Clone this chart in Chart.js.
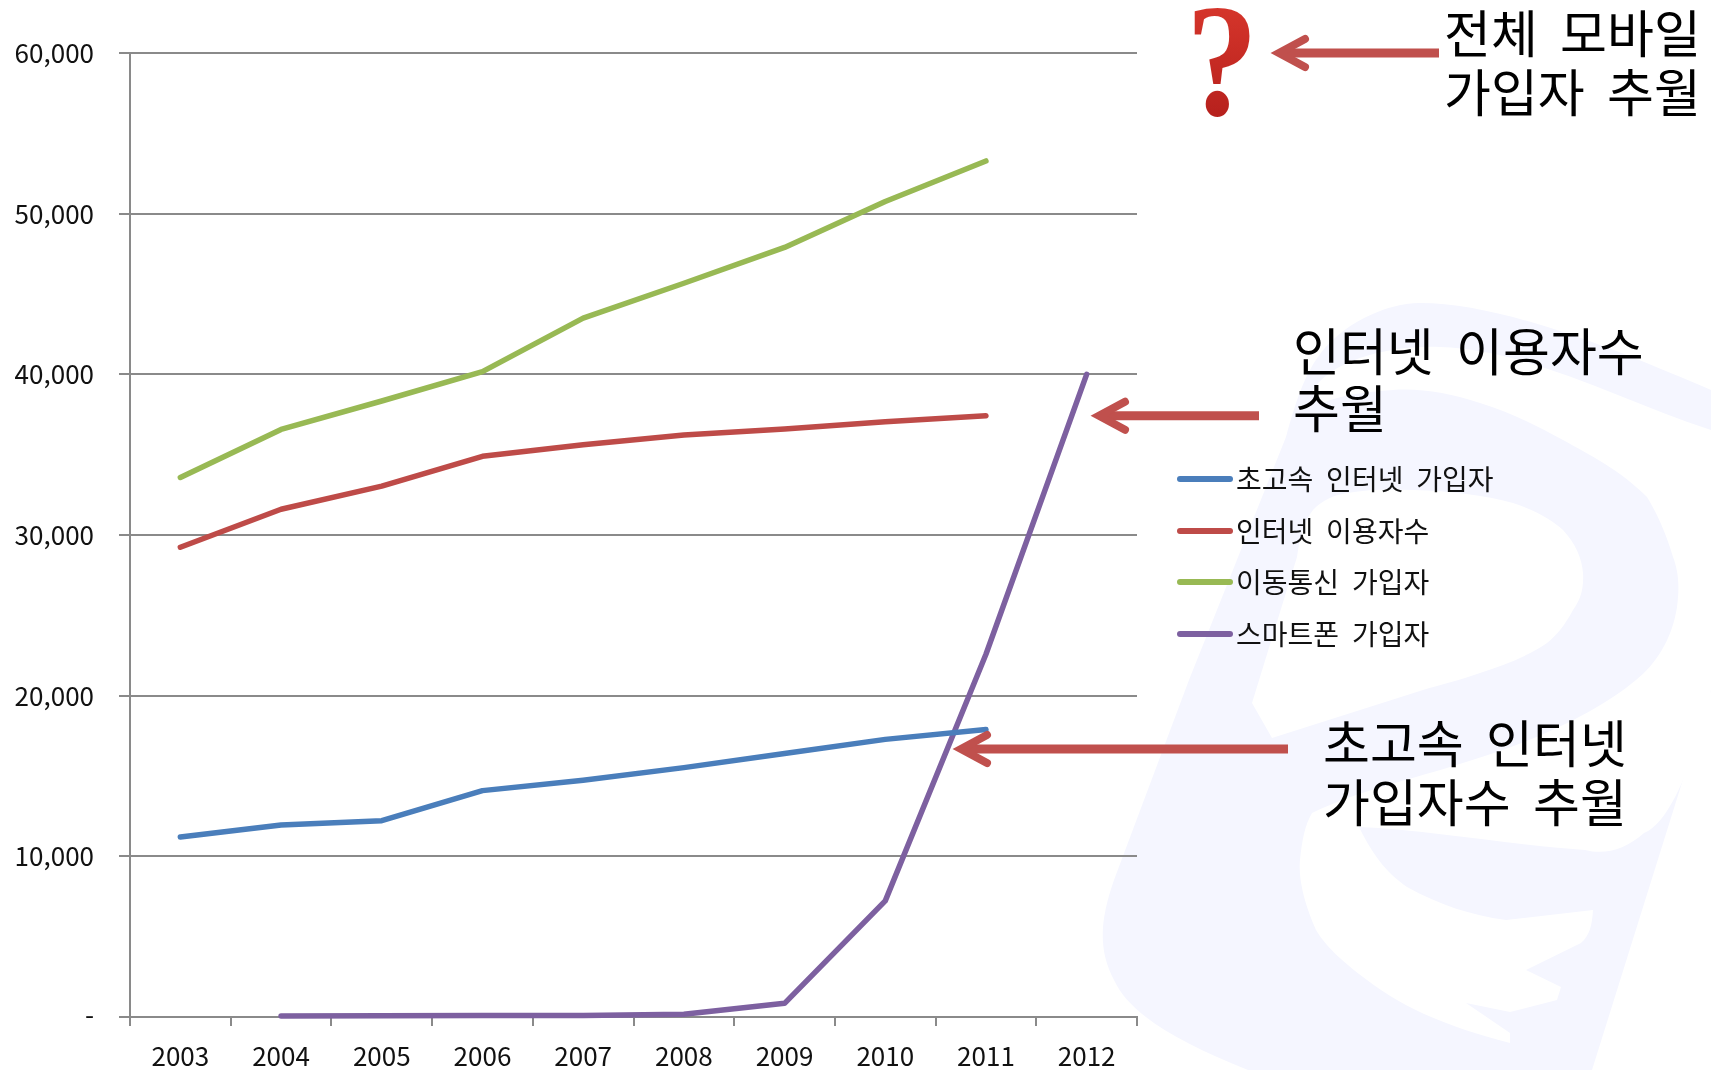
<!DOCTYPE html>
<html lang="ko">
<head>
<meta charset="utf-8">
<title>모바일 가입자 추월</title>
<script src="https://cdn.jsdelivr.net/npm/chart.js@4"></script>
<style>
  html, body { margin: 0; padding: 0; background: #fff; }
  #stage { position: relative; width: 1711px; height: 1070px; overflow: hidden; font-family: "Noto Sans CJK KR", sans-serif; color: #000; }
  #watermark { position: absolute; left: 0; top: 0; }
  #chart { position: absolute; left: 0; top: 0; }
  .note { position: absolute; font-size: 51px; line-height: 59px; word-spacing: 8px; white-space: nowrap; }
  .qmark {
    position: absolute; left: 1186px; top: -19px; font: bold 160px/160px "Liberation Serif", serif;
    transform: scaleX(0.9); transform-origin: left top;
    background: linear-gradient(180deg, #dc3a2e, #b01c1a); -webkit-background-clip: text; background-clip: text; color: transparent;
  }
  #legend { position: absolute; left: 1177px; top: 452px; }
  .legend-row { position: relative; height: 51.5px; line-height: 52px; font-size: 28px; word-spacing: 5px; padding-left: 59px; white-space: nowrap; color: #111; }
  .legend-row i { position: absolute; left: 0; top: 24px; width: 56px; height: 6px; border-radius: 3px; }
</style>
</head>
<body>
<div id="stage">
  <svg id="watermark" width="1711" height="1070" viewBox="0 0 1711 1070">
    <path fill="#f5f6ff" d="M1420 303 C1385 303 1340 325 1318 357 C1305 375 1296 400 1286 437 L1189 680 L1114 880 C1100 920 1098 950 1114 980 C1130 1015 1180 1043 1248 1070 L1592 1070 L1711 690 L1711 390 C1640 360 1510 303 1420 303 Z"/>
    <path fill="#fff" d="M1312 392 C1330 360 1390 345 1440 347 C1530 350 1620 400 1711 430 L1711 690 C1690 780 1665 825 1644 833 C1625 850 1605 855 1585 850 C1510 845 1430 830 1359 827 C1375 860 1390 875 1407 887 C1440 905 1470 915 1506 920 L1593 910 C1592 925 1590 935 1581 943 L1526 970 L1561 987 L1557 1000 L1510 1012 L1466 1003 L1510 1033 L1510 1043 C1440 1025 1400 1005 1367 980 C1340 960 1325 945 1316 930 C1305 905 1298 880 1300 860 C1302 840 1305 825 1312 813 C1360 790 1410 780 1466 762 C1540 740 1600 710 1636 680 C1655 665 1672 640 1677 607 C1680 585 1678 570 1673 557 C1665 530 1655 510 1647 497 C1620 470 1590 455 1563 440 C1535 425 1510 412 1480 403 C1450 393 1420 388 1393 390 C1365 392 1340 395 1323 403 Z"/>
    <path fill="#fff" d="M1297 557 C1300 535 1305 520 1313 510 C1322 500 1335 495 1347 493 C1370 489 1390 489 1413 490 C1450 491 1485 495 1513 503 C1535 510 1552 520 1563 530 C1575 543 1582 558 1583 573 C1584 590 1580 600 1573 610 C1565 625 1557 635 1547 643 C1530 655 1505 665 1480 673 C1460 680 1440 685 1423 690 L1272 738 L1252 703 Z"/>
  </svg>
  <canvas id="chart" width="1711" height="1070"></canvas>
  <div class="qmark">?</div>
  <div class="note" style="left:1444px;top:2px">전체 모바일<br>가입자 추월</div>
  <div class="note" style="left:1293px;top:321px;line-height:57px">인터넷 이용자수<br>추월</div>
  <div class="note" style="left:1323px;top:712px">초고속 인터넷<br>가입자수 추월</div>
  <div id="legend"></div>
</div>
<script>
const years = ['2003', '2004', '2005', '2006', '2007', '2008', '2009', '2010', '2011', '2012'];
const broadband = [11200, 11950, 12220, 14090, 14740, 15520, 16400, 17280, 17900, null];
const internetUsers = [29240, 31600, 33040, 34900, 35620, 36230, 36600, 37050, 37420, null];
const mobileSubs = [33580, 36570, 38340, 40170, 43500, 45670, 47900, 50760, 53280, null];
const smartphone = [null, 70, 80, 90, 100, 170, 850, 7230, 22580, 40000];
const seriesNames = ['초고속 인터넷 가입자', '인터넷 이용자수', '이동통신 가입자', '스마트폰 가입자'];
const seriesColors = ['#4a7ebb', '#be4b48', '#98b954', '#7d60a0'];
const seriesValues = [broadband, internetUsers, mobileSubs, smartphone];
const gridColor = '#8a8a8a';
const arrowColor = '#c0504d';

// arrows: pointing left, y taken from the value axis
const arrows = [
  { value: 60000, tip: 1274, tail: 1439 },
  { value: 37420, tip: 1094, tail: 1259 },
  { value: 16680, tip: 956, tail: 1288 },
];

const arrowPlugin = {
  id: 'arrows',
  afterDatasetsDraw(chart) {
    const { ctx, scales } = chart;
    ctx.save();
    ctx.strokeStyle = arrowColor;
    arrows.forEach(a => {
      const y = scales.y.getPixelForValue(a.value);
      ctx.lineWidth = 9;
      ctx.lineCap = 'butt';
      ctx.beginPath();
      ctx.moveTo(a.tail, y);
      ctx.lineTo(a.tip + 6, y);
      ctx.stroke();
      ctx.lineWidth = 8;
      ctx.lineCap = 'round';
      ctx.lineJoin = 'miter';
      ctx.beginPath();
      ctx.moveTo(a.tip + 31, y - 14);
      ctx.lineTo(a.tip + 5, y);
      ctx.lineTo(a.tip + 31, y + 14);
      ctx.stroke();
    });
    ctx.restore();
  }
};

new Chart(document.getElementById('chart'), {
  type: 'line',
  data: {
    labels: years,
    datasets: seriesValues.map((data, i) => ({
      label: seriesNames[i],
      data,
      borderColor: seriesColors[i],
      borderWidth: 5.5,
      borderCapStyle: 'round',
      borderJoinStyle: 'round',
      pointRadius: 0,
      tension: 0,
      clip: false,
    }))
  },
  options: {
    responsive: false,
    animation: false,
    layout: { padding: { left: 0, right: 574, top: 53, bottom: 0 } },
    plugins: { legend: { display: false }, tooltip: { enabled: false } },
    scales: {
      x: {
        offset: true,
        grid: { offset: true, drawOnChartArea: false, color: gridColor, lineWidth: 2, tickLength: 9, tickColor: gridColor },
        border: { color: gridColor, width: 2 },
        ticks: { color: '#111', font: { family: '"Noto Sans CJK KR"', size: 26 }, padding: 15, maxRotation: 0 },
        afterFit: s => { s.height = 53; },
      },
      y: {
        min: 0,
        max: 60000,
        grid: { color: gridColor, lineWidth: 2, tickLength: 11, tickColor: gridColor },
        border: { color: gridColor, width: 2 },
        ticks: {
          stepSize: 10000,
          color: '#111',
          padding: 25,
          font: { family: '"Noto Sans CJK KR"', size: 26 },
          callback: v => v === 0 ? '-' : v.toLocaleString('en-US'),
        },
        afterFit: s => { s.width = 130; },
      }
    }
  },
  plugins: [arrowPlugin]
});

// legend rows from the series lists
document.getElementById('legend').innerHTML = seriesNames.map((name, i) =>
  `<div class="legend-row"><i style="background:${seriesColors[i]}"></i>${name}</div>`).join('');
</script>
</body>
</html>
